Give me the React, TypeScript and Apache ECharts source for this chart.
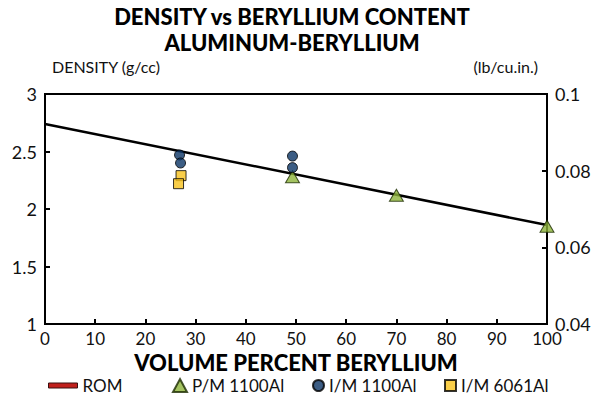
import React, { useEffect, useRef } from "react";
import * as echarts from "echarts";

const xTicks = [0, 10, 20, 30, 40, 50, 60, 70, 80, 90, 100];
const romLine: [number, number][] = [
  [0, 2.74],
  [100, 1.86],
];
const pm1100: [number, number][] = [
  [49.3, 2.28],
  [70.0, 2.12],
  [100, 1.85],
];
const im1100: [number, number][] = [
  [26.8, 2.47],
  [27.0, 2.4],
  [49.3, 2.46],
  [49.3, 2.36],
];
const im6061: [number, number][] = [
  [27.1, 2.29],
  [26.6, 2.22],
];

const FONT = "Lato, 'Open Sans', sans-serif";

export default function App() {
  const ref = useRef<HTMLDivElement>(null);
  useEffect(() => {
    if (!ref.current) return;
    const chart = echarts.init(ref.current, null, { renderer: "svg" });
    const legendText = { fontFamily: FONT, fontSize: 17, lineHeight: 17, color: "#111" };
    const mkLegend = (left: number, name: string, icon: string, w: number, h: number, extra: any = {}) => ({
      left,
      top: 377,
      padding: 0,
      itemWidth: w,
      itemHeight: h,
      itemGap: 0,
      textStyle: legendText,
      data: [{ name, icon, ...extra }],
    });
    chart.setOption({
      animation: false,
      backgroundColor: "#fff",
      title: {
        text: "DENSITY vs BERYLLIUM CONTENT\nALUMINUM-BERYLLIUM",
        left: 292,
        textAlign: "center",
        top: 3,
        padding: 0,
        textStyle: {
          fontFamily: FONT,
          fontWeight: 900,
          fontSize: 22,
          lineHeight: 26,
          color: "#000",
        },
      },
      legend: [
        mkLegend(48, "ROM", "rect", 29, 5, {
          itemStyle: { color: "#c0201c", borderColor: "#3a1010", borderWidth: 1 },
        }),
        mkLegend(172, "P/M 1100Al", "triangle", 14, 13),
        mkLegend(312, "I/M 1100Al", "circle", 11, 11),
        mkLegend(444, "I/M 6061Al", "rect", 11, 11),
      ],
      grid: {
        left: 45,
        right: 47,
        top: 94,
        bottom: 78,
        show: true,
        borderColor: "#000",
        borderWidth: 2,
        backgroundColor: "transparent",
      },
      xAxis: {
        type: "value",
        min: 0,
        max: 100,
        interval: 10,
        axisLine: { show: true, lineStyle: { color: "#000", width: 2 } },
        axisTick: { show: true, inside: true, length: 5, lineStyle: { color: "#000", width: 2 } },
        axisLabel: {
          fontFamily: FONT,
          fontSize: 17,
          lineHeight: 16,
          color: "#111",
          margin: 6,
          formatter: (v: number) => (xTicks.includes(v) ? String(v) : ""),
        },
        splitLine: { show: false },
        name: "VOLUME PERCENT BERYLLIUM",
        nameLocation: "middle",
        nameGap: 17,
        nameTextStyle: { fontFamily: FONT, fontWeight: 900, fontSize: 22, lineHeight: 22, color: "#000" },
      },
      yAxis: [
        {
          type: "value",
          min: 1,
          max: 3,
          interval: 0.5,
          position: "left",
          axisLine: { show: true, lineStyle: { color: "#000", width: 2 } },
          axisTick: { show: true, inside: true, length: 5, lineStyle: { color: "#000", width: 2 } },
          axisLabel: { fontFamily: FONT, fontSize: 18, lineHeight: 14, color: "#111", margin: 8 },
          splitLine: { show: false },
        },
        {
          type: "value",
          min: 0.04,
          max: 0.1,
          interval: 0.02,
          position: "right",
          axisLine: { show: true, lineStyle: { color: "#000", width: 2 } },
          axisTick: { show: true, inside: true, length: 5, lineStyle: { color: "#000", width: 2 } },
          axisLabel: {
            fontFamily: FONT,
            fontSize: 18,
            lineHeight: 14,
            color: "#111",
            margin: 8,
            formatter: (v: number) => String(+v.toFixed(2)),
          },
          splitLine: { show: false },
        },
      ],
      graphic: [
        {
          type: "text",
          x: 52,
          y: 58,
          style: { text: "DENSITY (g/cc)", fontFamily: FONT, fontSize: 16, fill: "#111" },
        },
        {
          type: "text",
          x: 538,
          y: 58,
          style: { text: "(lb/cu.in.)", fontFamily: FONT, fontSize: 16, fill: "#111", align: "right" },
        },
      ],
      series: [
        {
          name: "ROM",
          type: "line",
          data: romLine,
          symbol: "none",
          lineStyle: { color: "#000", width: 2.5 },
          itemStyle: { color: "#c0201c" },
          z: 2,
        },
        {
          name: "P/M 1100Al",
          type: "scatter",
          data: pm1100,
          symbol: "triangle",
          symbolSize: [14, 12],
          itemStyle: { color: "#8db43a", borderColor: "#1a2a00", borderWidth: 1 },
          z: 3,
        },
        {
          name: "I/M 1100Al",
          type: "scatter",
          data: im1100,
          symbol: "circle",
          symbolSize: 10,
          itemStyle: { color: "#0b3565", borderColor: "#000", borderWidth: 1 },
          z: 3,
        },
        {
          name: "I/M 6061Al",
          type: "scatter",
          data: im6061,
          symbol: "rect",
          symbolSize: 10,
          itemStyle: { color: "#f8c21c", borderColor: "#000", borderWidth: 1 },
          z: 3,
        },
      ],
    });
    return () => chart.dispose();
  }, []);
  return <div ref={ref} style={{ width: 594, height: 402, position: "absolute", left: 0, top: 0 }} />;
}
